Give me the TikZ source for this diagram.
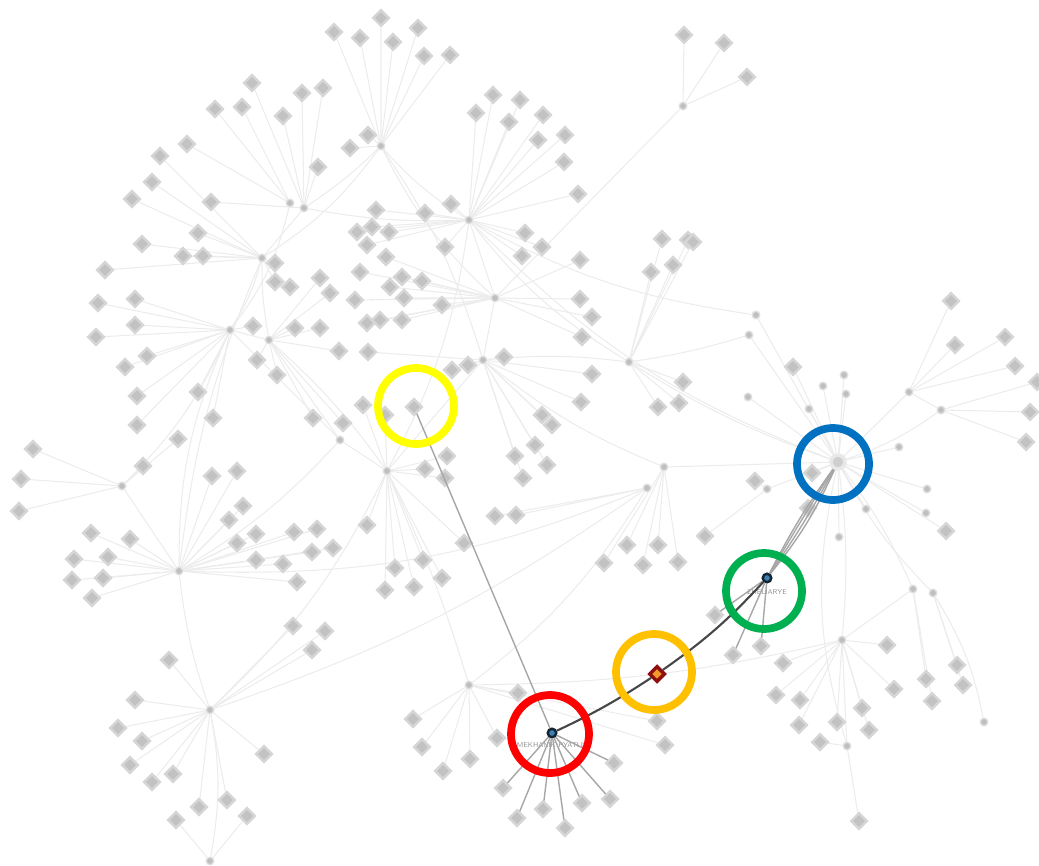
\documentclass[tikz,border=0pt]{standalone}
\usepackage{tikz}
\usetikzlibrary{calc, positioning, backgrounds, shapes.geometric}

\definecolor{ringyellow}{HTML}{FFFF00}
\definecolor{ringred}{HTML}{FF0000}
\definecolor{ringorange}{HTML}{FFC000}
\definecolor{ringgreen}{HTML}{00B050}
\definecolor{ringblue}{HTML}{0070C0}
\definecolor{focusfill}{HTML}{3E7FB1}
\definecolor{focusline}{HTML}{132433}
\definecolor{gemfill}{HTML}{F39A2B}
\definecolor{gemline}{HTML}{8E0F0F}

\begin{document}
\begin{tikzpicture}[
    x=0.1mm, y=-0.1mm,
    leaf/.style={rectangle, rotate=45, fill=gray!48, draw=gray!32, line width=0.7pt, minimum size=1.1mm, inner sep=0pt},
    hub/.style={circle, fill=gray!50, draw=gray!25, line width=0.4pt, minimum size=0.75mm, inner sep=0pt},
    link/.style={gray!15, line width=0.3pt},
    spoke/.style={gray!70, line width=0.4pt},
    trail/.style={black!72, line width=0.6pt},
    ring/.style={line width=2.2pt},
    focus/.style={circle, fill=focusfill, draw=focusline, line width=0.7pt, minimum size=0.85mm, inner sep=0pt},
    gem/.style={diamond, fill=gemfill, draw=gemline, line width=1pt, minimum size=1.6mm, inner sep=0pt},
    tag/.style={font=\fontsize{2}{2.4}\selectfont\sffamily, text=gray!85, inner sep=0pt}
]
\useasboundingbox (0,0) rectangle (1039,866);

% Concentrateurs
\node[hub] (hA) at (381,146) {};
\node[hub] (hB) at (469,220) {};
\node[hub] (hC) at (683,106) {};
\node[hub] (hD) at (304,208) {};
\node[hub] (hD2) at (290,203) {};
\node[hub] (hE) at (262,258) {};
\node[hub] (hF) at (230,330) {};
\node[hub] (hG) at (269,340) {};
\node[hub] (hH) at (122,486) {};
\node[hub] (hI) at (179,571) {};
\node[hub] (hJ) at (210,710) {};
\node[hub] (hK) at (210,861) {};
\node[hub] (hL) at (387,471) {};
\node[hub] (hM) at (340,440) {};
\node[hub] (hN) at (495,298) {};
\node[hub] (hO) at (483,360) {};
\node[hub] (hP) at (629,362) {};
\node[hub] (hQ) at (664,467) {};
\node[hub] (hQ2) at (647,488) {};
\node[hub] (hR) at (469,685) {};
\node[hub] (hT) at (909,392) {};
\node[hub] (hU) at (941,410) {};
\node[hub] (hV) at (842,640) {};
\node[hub] (hW) at (847,746) {};
\node[hub] (hX) at (913,589) {};
\node[hub] (hX2) at (933,593) {};
\node[hub] (hY) at (767,489) {};
\node[hub] (hZ) at (984,722) {};
\node[hub, minimum size=1.4mm, fill=gray!38, draw=gray!18, line width=1pt] (hS) at (838,462) {};

% Feuilles et liens
\foreach \h/\pts in {
    hA/{(334,32),(360,38),(381,18),(393,42),(418,28),(424,56),(450,55),(368,135),(350,148)},
    hB/{(493,95),(520,100),(476,113),(509,122),(543,115),(538,140),(565,135),(564,162),(578,194),(451,204),(425,213),(445,247),(525,233),(542,247),(522,256),(376,210),(357,232),(372,227),(389,232),(367,245)},
    hC/{(684,35),(724,43),(747,77)},
    hD/{(252,83),(302,93),(323,88),(283,116),(318,167),(211,202)},
    hD2/{(215,109),(242,107),(187,144)},
    hE/{(160,156),(152,182),(132,199),(198,233),(142,244),(183,256),(203,256),(275,263),(275,282),(290,287),(105,270)},
    hF/{(98,303),(135,299),(135,325),(96,337),(147,356),(125,367),(253,326),(137,396),(198,392),(213,418),(137,425)},
    hG/{(295,328),(320,328),(320,278),(330,293),(339,351),(257,360),(277,375),(313,418),(343,423)},
    hH/{(33,449),(21,479),(19,511),(143,466),(178,439)},
    hI/{(91,533),(130,539),(74,559),(108,557),(72,580),(103,578),(92,598),(212,476),(237,471),(243,506),(229,520),(256,534),(237,543),(294,532),(256,560),(283,564),(297,582),(317,529),(333,548),(312,552)},
    hJ/{(169,660),(135,700),(118,728),(142,741),(130,765),(173,774),(152,782),(264,754),(199,807),(227,800),(293,626),(325,631),(312,650)},
    hK/{(176,820),(247,816)},
    hL/{(447,456),(425,469),(445,478),(367,525),(395,568),(423,560),(442,578),(385,590),(414,587),(464,543),(363,405),(385,415)},
    hN/{(580,260),(580,299),(592,317),(582,337),(442,305),(386,257),(360,272),(402,277),(422,281),(390,287),(355,300),(404,298),(367,323),(380,320),(402,320)},
    hO/{(452,370),(468,365),(504,357),(542,415),(552,425),(581,402),(592,374),(368,352),(515,456),(535,445),(547,465),(523,478)},
    hP/{(683,382),(658,407),(679,403),(662,239),(688,240),(651,272),(673,265),(693,242)},
    hQ/{(627,545),(658,545),(604,563),(643,565),(678,562)},
    hQ2/{(495,516),(516,515)},
    hR/{(413,719),(422,747),(443,771),(470,759),(497,738),(518,693),(657,721),(665,745)},
    hS/{(812,473),(808,508),(946,531),(793,367)},
    hT/{(951,301),(955,345),(1005,337),(1015,366)},
    hU/{(1037,382),(1030,412),(1026,442)},
    hV/{(783,663),(776,695),(800,700),(799,725),(837,722),(862,708),(869,730),(887,645),(894,689)},
    hW/{(859,821),(820,742)},
    hX/{(926,679),(932,701)},
    hX2/{(957,665),(963,685)},
    hY/{(755,481),(705,536)}} {
  \foreach \p [count=\i] in \pts {
    \node[leaf] (\h-\i) at \p {};
    \begin{pgfonlayer}{background}
      \draw[link] (\h) -- (\h-\i);
    \end{pgfonlayer}
  }
}

% Petits points autour de hS
\foreach \p [count=\i] in {(823,386),(844,375),(846,394),(809,409),(899,447),(927,489),(926,513),(866,509),(839,537),(748,397),(756,315),(749,335)} {
  \node[hub] (hS-d\i) at \p {};
  \begin{pgfonlayer}{background}
    \draw[link] (hS) -- (hS-d\i);
  \end{pgfonlayer}
}

% Liens entre concentrateurs
\begin{pgfonlayer}{background}
\foreach \u/\v/\b in {hA/hB/-8, hA/hD/5, hA/hE/10, hA/hN/-10, hD/hE/0, hD2/hF/12, hD/hB/-6,
    hE/hF/8, hE/hG/-5, hF/hG/0, hF/hH/10, hF/hI/-12, hG/hL/6, hG/hM/0, hM/hL/0, hM/hI/8,
    hH/hI/0, hI/hJ/-6, hJ/hK/10, hJ/hL/-10, hL/hR/4, hL/hO/0, hN/hO/0, hN/hB/0, hO/hQ/-8,
    hO/hP/6, hB/hP/-10, hB/hS/-12, hP/hS/-6, hQ/hS/0, hQ2/hR/10, hC/hN/0, hS/hT/0, hS/hU/-8,
    hS/hV/6, hS/hW/-14, hV/hW/0, hX/hV/0, hX/hS/-6, hX2/hS/8, hX2/hZ/10, hT/hU/0, hR/hV/-6,
    hQ2/hI/12, hY/hS/0, hJ/hQ2/-8, hM/hF/0, hA/hO/8, hB/hL/10, hE/hI/-8,
    hB/hS-d11/-10, hP/hS-d12/-4}
  \draw[link] (\u) to[bend left=\b] (\v);
\end{pgfonlayer}

% Chemin mis en évidence
\node[leaf] (nY) at (414,407) {};
\node[focus] (nRed) at (552,733) {};
\node[tag, below=0.35mm of nRed] (tRed) {MEKHANIK PYATLIS};
\node[focus] (nGrn) at (767,578) {};
\node[tag, below=0.5mm of nGrn] (tGrn) {ZHELIARYE};
\node[gem] (nGem) at (657,674) {};

\foreach \p [count=\i] in {(503,788),(517,818),(543,809),(565,828),(582,803),(610,799),(614,763)} {
  \node[leaf] (r\i) at \p {};
  \draw[spoke] (nRed) -- (r\i);
}
\foreach \p [count=\i] in {(715,615),(733,655),(761,646)} {
  \node[leaf] (g\i) at \p {};
  \draw[spoke] (nGrn) -- (g\i);
}
\draw[spoke] (nRed) -- (nY);
\foreach \b in {-7,-3,1,4}
  \draw[spoke] (nGrn) to[bend left=\b] (hS);
\draw[trail] (nRed) to[bend right=4] (nGem);
\draw[trail] (nGem) to[bend right=6] (nGrn);

% Cercles
\draw[ring, ringyellow] ($(nY)+(2,-1)$) circle[radius=38];
\draw[ring, ringred] ($(nRed)+(-2,1)$) circle[radius=39];
\draw[ring, ringorange] ($(nGem)+(-3,-2)$) circle[radius=38];
\draw[ring, ringgreen] ($(nGrn)+(-3,13)$) circle[radius=38];
\draw[ring, ringblue] ($(hS)+(-5,2)$) circle[radius=36];

\end{tikzpicture}
\end{document}
